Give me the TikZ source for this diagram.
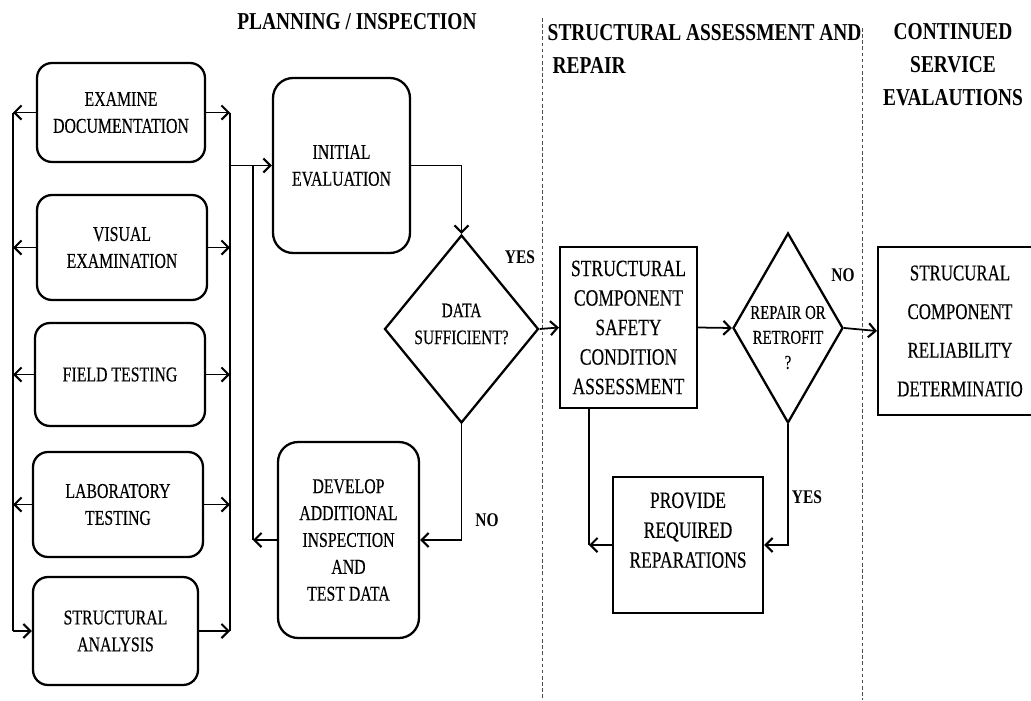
\documentclass[tikz,border=0pt]{standalone}
\usepackage{fontspec}
\newfontfamily\flowfont[FakeStretch=0.75,FakeBold=0.3]{Liberation Serif}
\newfontfamily\headfont[FakeStretch=0.8]{Liberation Serif}
\usetikzlibrary{shapes.geometric,arrows.meta}

\tikzset{
  rbox/.style={draw,line width=1.3pt,rounded corners=0.3cm,align=center,inner sep=2pt,
    font=\flowfont\fontsize{12}{15.3}\selectfont},
  bigrbox/.style={rbox,rounded corners=0.4cm},
  sbox/.style={draw,line width=1.2pt,align=center,inner sep=2pt,
    font=\flowfont\fontsize{13.3}{16.8}\selectfont},
  decision/.style={draw,diamond,line width=1.3pt,inner sep=0pt},
  dtext/.style={align=center,font=\flowfont\fontsize{11.7}{15.3}\selectfont},
  phase/.style={font=\headfont\bfseries\fontsize{13.8}{18.7}\selectfont},
  answer/.style={font=\headfont\bfseries\fontsize{11}{13}\selectfont},
  sect/.style={dash pattern=on 2pt off 1.5pt,line width=0.5pt,black!70}
}

\begin{document}
\begin{tikzpicture}[x=0.02cm,y=-0.02cm,>={Straight Barb[length=4pt,width=8pt,line width=1.2pt]},line width=1pt]
  \useasboundingbox (0,0) rectangle (1031,700);
  \clip (0,0) rectangle (1031,700);
  % The phase titles
  \node[phase] (plan) at (357,22) {PLANNING / INSPECTION};
  \node[phase,align=left,anchor=north west] (assess) at (541,18) {STRUCTURAL ASSESSMENT AND\\\hspace*{0.1cm}REPAIR};
  \node[phase,align=center] (cont) at (953,65) {CONTINUED\\SERVICE\\EVALAUTIONS};
  % The phase borders
  \draw[sect] (542,18) -- (542,700);
  \draw[sect] (862,28) -- (862,700);

  % Planning / inspection
  \node[rbox,minimum width=3.36cm,minimum height=1.98cm] (doc) at (121,112.5) {EXAMINE\\DOCUMENTATION};
  \node[rbox,minimum width=3.4cm,minimum height=2.1cm] (vis) at (122,247.5) {VISUAL\\EXAMINATION};
  \node[rbox,minimum width=3.4cm,minimum height=2.06cm] (field) at (120,374.5) {FIELD TESTING};
  \node[rbox,minimum width=3.4cm,minimum height=2.1cm] (lab) at (118,504.5) {LABORATORY\\TESTING};
  \node[rbox,minimum width=3.3cm,minimum height=2.16cm] (ana) at (115.5,631) {STRUCTURAL\\ANALYSIS};
  \node[bigrbox,minimum width=2.74cm,minimum height=3.5cm] (init) at (341.5,165.5) {INITIAL\\EVALUATION};
  \node[bigrbox,minimum width=2.82cm,minimum height=3.92cm] (dev) at (348.5,540) {DEVELOP\\ADDITIONAL\\INSPECTION\\AND\\TEST DATA};
  \node[decision,minimum width=3.08cm,minimum height=3.76cm] (data) at (461.5,329) {};
  \node[dtext] (data-t) at ([yshift=0.1cm]data) {DATA\\SUFFICIENT?};

  % Assessment and repair
  \node[sbox,minimum width=2.74cm,minimum height=3.22cm] (scsca) at (628.5,327.5) {STRUCTURAL\\COMPONENT\\SAFETY\\CONDITION\\ASSESSMENT};
  \node[decision,minimum width=2.2cm,minimum height=3.8cm] (rep) at (788,328) {};
  \node[dtext,font=\flowfont\fontsize{11.2}{14.2}\selectfont] (rep-t) at ([yshift=-0.19cm]rep) {REPAIR OR\\RETROFIT\\?};
  \node[sbox,minimum width=3cm,minimum height=2.72cm,font=\flowfont\fontsize{13.3}{17}\selectfont] (prov) at (688,545) {PROVIDE\\REQUIRED\\REPARATIONS\\\mbox{}};

  % Continued service
  \node[sbox,minimum width=3.28cm,minimum height=3.36cm,font=\flowfont\fontsize{12.8}{22}\selectfont] (rel) at (960,331) {STRUCURAL\\COMPONENT\\RELIABILITY\\DETERMINATIO};

  % The collecting lines
  \coordinate (lft) at (13,0);
  \coordinate (rgt) at (230,0);
  \coordinate (ret) at (253,0);
  \coordinate (sj) at (589,545);
  \foreach \n in {doc,vis,field,lab}
  {
    \draw[->] (\n.west) -- (\n.west -| lft);
    \draw[->] (\n.east) -- (\n.east -| rgt);
  }
  \draw (doc.west -| lft) -- (ana.west -| lft);
  \draw[->] (ana.west -| lft) -- (ana.west);
  \draw[->] (ana.east) -- (ana.east -| rgt);
  \draw (doc.east -| rgt) -- (ana.east -| rgt);
  \draw[->] (init.west -| rgt) -- (init.west);
  \draw (init.west -| ret) -- (dev.west -| ret);
  \draw[->] (dev.west) -- (dev.west -| ret);

  % The decisions
  \draw[->] (init.east) -| (data.north);
  \draw[->] (data.south) |- (dev.east);
  \node[answer] (no1) at (487,520) {NO};
  \draw[->] (data.east) -- (scsca.west);
  \node[answer] (yes1) at (520,257) {YES};
  \draw[->] (scsca.east) -- (rep.west);
  \draw[->] (rep.east) -- (rel.west);
  \node[answer] (no2) at (843,275) {NO};
  \draw[->] (rep.south) |- (prov.east);
  \node[answer] (yes2) at (807,497) {YES};
  \draw (scsca.south -| sj) -- (sj);
  \draw[->] (prov.west) -- (sj);
\end{tikzpicture}
\end{document}
